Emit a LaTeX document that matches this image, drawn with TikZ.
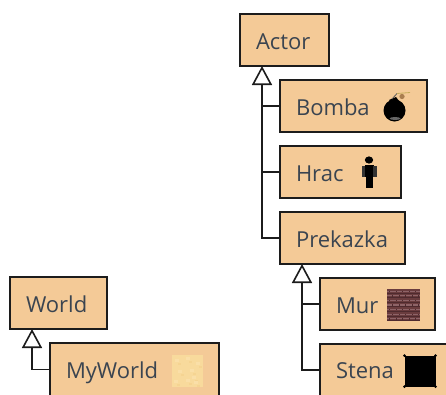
\documentclass[tikz,border=0pt]{standalone}
\usepackage{fontspec}
\setmainfont{Open Sans}
\usetikzlibrary{arrows.meta}
\definecolor{boxfill}{HTML}{F4CA97}
\definecolor{boxline}{HTML}{1C1C1C}
\definecolor{labeltext}{HTML}{3A4450}
\definecolor{brickbase}{HTML}{6A3C3E}
\definecolor{brickdark}{HTML}{4E2A2E}
\definecolor{bricklight}{HTML}{8E6468}
\definecolor{sandbase}{HTML}{F8DA9C}
\definecolor{sandlight}{HTML}{FADFA8}
\definecolor{sanddark}{HTML}{F5D492}
\tikzset{
  x=1pt,y=-1pt,
  classbox/.style={draw=boxline,fill=boxfill,line width=1.6pt,anchor=north west,minimum height=52pt,
    inner xsep=16pt,inner ysep=0pt,outer sep=0pt,text=labeltext,font=\fontsize{22}{26}\selectfont,
    text height=21pt,text depth=2pt},
  cutbox/.style={classbox,minimum height=60pt},
  inherit/.style={draw=boxline,line width=1.6pt},
  inherittip/.style={inherit,-{Triangle[open,length=19pt,width=20pt,line width=1.6pt,fill=white]}}
}
\begin{document}
\begin{tikzpicture}
\useasboundingbox (0,0) rectangle (446,394);
\clip (0,0) rectangle (446,394);
\fill[white] (0,0) rectangle (446,394);
% classes
\node[classbox,text width=57pt] (actor) at (240,14) {Actor};
\node[classbox,text width=115pt] (bomba) at (280,80) {Bomba};
\node[classbox,text width=89pt] (hrac) at (280,146) {Hrac};
\node[classbox,text width=93pt] (prekazka) at (280,212) {Prekazka};
\node[classbox,text width=83pt] (mur) at (320,278) {Mur};
\node[cutbox,text width=110pt,text height=10pt] (stena) at (320,344) {Stena};
\node[classbox,text width=65pt] (world) at (10,277) {World};
\node[cutbox,text width=137pt,text height=12pt] (myworld) at (50,343) {MyWorld};
% ports
\coordinate (actorport) at (262,66);
\coordinate (prekazkaport) at (302,264);
\coordinate (worldport) at (32,329);
% connectors
\draw[inherit] (bomba.west) -- (bomba.west -| actorport);
\draw[inherit] (hrac.west) -- (hrac.west -| actorport);
\draw[inherit] (mur.west) -- (mur.west -| prekazkaport);
\draw[inherittip] (prekazka.west) -| (actorport);
\draw[inherittip] ([yshift=4pt]stena.west) -| (prekazkaport);
\draw[inherittip] ([yshift=3.5pt]myworld.west) -| (worldport);
% bomb icon
\fill[black] (394.5,110.5) circle (11);
\fill[black] (389,100) -- (396,97) -- (399,101) -- (392,104) -- cycle;
\fill[black!60] (395,118.5) ellipse (5.5 and 1.5);
\draw[black!65,line width=0.8pt] (392,99) -- (397,93.5);
\fill[boxfill!40!brown!80!black] (402,96.5) circle (2.6);
\draw[boxfill!60!olive,line width=0.8pt] (397,93.5) -- (410,92.5);
% man icon
\fill[black] (369,160) ellipse (4.2 and 3.6);
\fill[black] (364.5,165) rectangle (373.5,177);
\fill[black!80] (362,166) rectangle (364.7,177);
\fill[black!80] (373.3,166) rectangle (376.5,177);
\fill[black] (365.5,177) rectangle (372.5,188);
% brick icon
\fill[brickbase] (387,289) rectangle (420,321);
\foreach \r in {0,...,6}{
  \fill[bricklight] (387,290.5+4.6*\r) rectangle (420,291.7+4.6*\r);
  \fill[brickdark] (387,292.6+4.6*\r) rectangle (420,293.6+4.6*\r);
  \foreach \c in {0,...,4}{
    \pgfmathsetmacro{\bx}{389+6.5*\c+3*mod(\r,2)}
    \pgfmathsetmacro{\by}{290.5+4.6*\r}
    \fill[brickdark] (\bx,\by) rectangle ++(1.4,1.4);
  }
}
% wall icon
\fill[black] (404.5,355.5) rectangle (435.5,386.5);
\foreach \a/\b in {404.5/355.5,435.5/355.5,404.5/386.5,435.5/386.5}{\fill[black] (\a,\b) circle (1.5);}
% world icon
\fill[sandbase] (172,355) rectangle (203,387);
\foreach \a/\b in {175/359,186/357,196/362,178/370,190/369,192/376,174/380,186/379,194/381}{
  \fill[sandlight] (\a,\b) rectangle ++(4,3);
  \fill[sanddark] (\a+3,\b+4) rectangle ++(3,2);
}
\end{tikzpicture}
\end{document}
